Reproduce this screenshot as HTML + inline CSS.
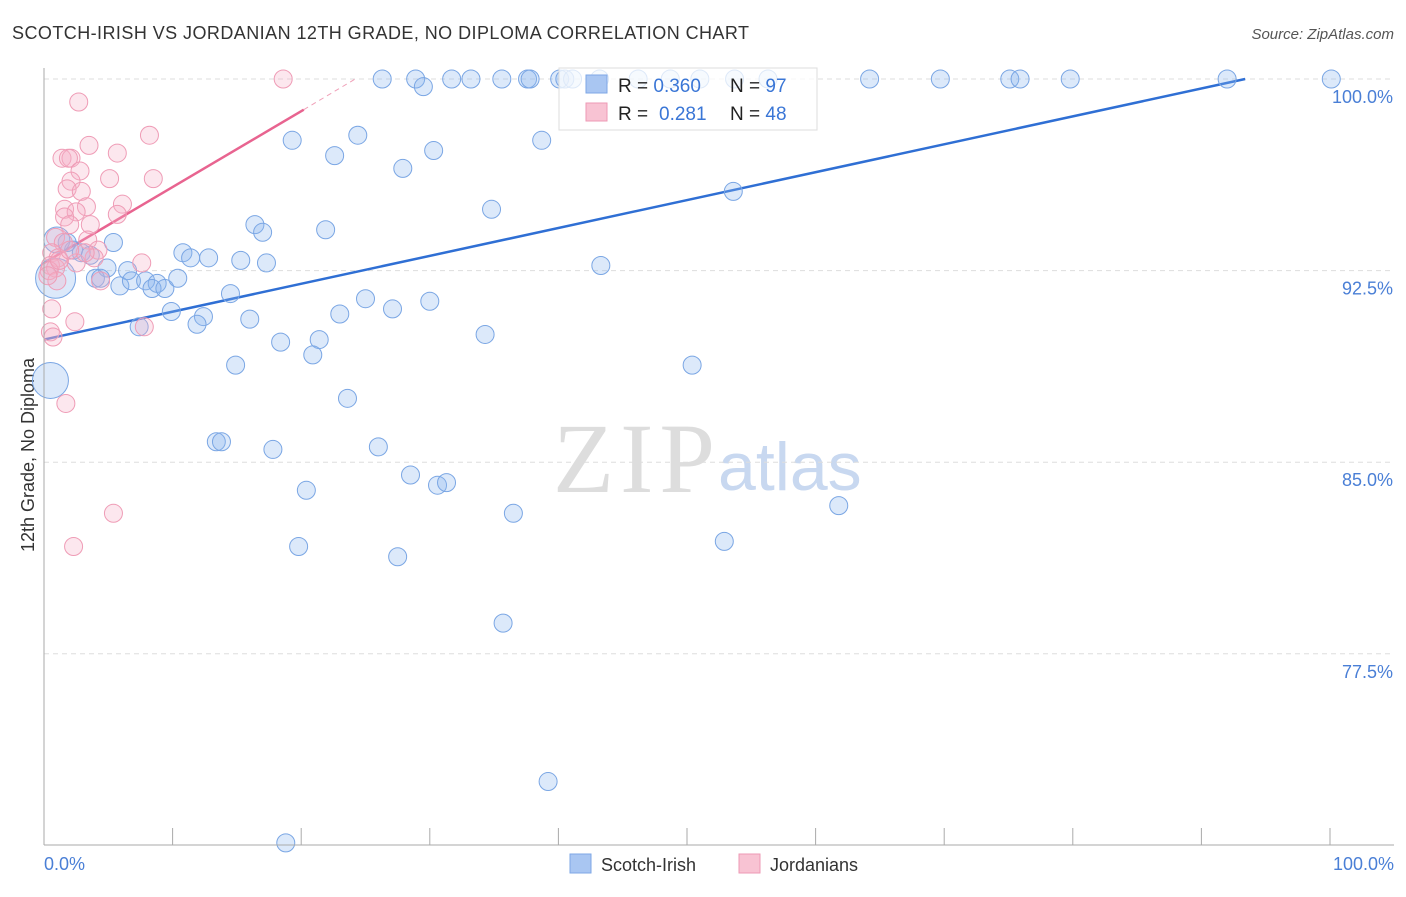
<!DOCTYPE html>
<html><head><meta charset="utf-8"><style>
body{margin:0;background:#fff;font-family:"Liberation Sans",sans-serif}
</style></head><body>
<svg id="c" width="1406" height="892" xmlns="http://www.w3.org/2000/svg" font-family="Liberation Sans, sans-serif">
<text x="12" y="39" font-size="18" fill="#333" textLength="737">SCOTCH-IRISH VS JORDANIAN 12TH GRADE, NO DIPLOMA CORRELATION CHART</text>
<text x="1394" y="39" font-size="15" fill="#555" text-anchor="end" font-style="italic">Source: ZipAtlas.com</text>
<text x="34" y="455" font-size="18" fill="#333" text-anchor="middle" transform="rotate(-90 34 455)">12th Grade, No Diploma</text>
<text x="553" y="492" font-size="100" fill="#ddd" style="font-family:'Liberation Serif',serif" textLength="162">ZIP</text>
<text x="718" y="490" font-size="68" fill="#c8d8f0">atlas</text>
<g id="grid"></g><g id="trend"></g>
<g id="pts"></g>
<g>
<rect x="559" y="68" width="258" height="62" fill="#fff" fill-opacity="0.75" stroke="#ddd"/>
<rect x="586" y="75" width="21" height="18" fill="#a9c6f2" stroke="#7ea7e6"/>
<rect x="586" y="103" width="21" height="18" fill="#f8c3d3" stroke="#ee9ab4"/>
<text x="618" y="92" font-size="19" fill="#222">R = <tspan fill="#3a76d6">0.360</tspan><tspan x="730">N = </tspan><tspan fill="#3a76d6">97</tspan></text>
<text x="618" y="120" font-size="19" fill="#222">R = <tspan x="659" fill="#3a76d6">0.281</tspan><tspan x="730">N = </tspan><tspan fill="#3a76d6">48</tspan></text>
</g>
<line x1="44" y1="68" x2="44" y2="845" stroke="#aaa"/>
<line x1="44" y1="845" x2="1394" y2="845" stroke="#aaa"/>
<text x="44" y="870" font-size="18" fill="#4a7fd6">0.0%</text>
<text x="1394" y="870" font-size="18" fill="#4a7fd6" text-anchor="end">100.0%</text>
<g>
<rect x="570" y="854" width="21" height="19" fill="#a9c6f2" stroke="#7ea7e6"/>
<text x="601" y="871" font-size="18" fill="#333">Scotch-Irish</text>
<rect x="739" y="854" width="21" height="19" fill="#f8c3d3" stroke="#ee9ab4"/>
<text x="770" y="871" font-size="18" fill="#333">Jordanians</text>
</g>
</svg>
<script>
const yTicks=[100,92.5,85,77.5];
const yTickLabels=["100.0%","92.5%","85.0%","77.5%"];
const xTicks=[0,10,20,30,40,50,60,70,80,90,100];
const blueX=[26.3,28.9,29.5,31.7,33.2,35.6,37.6,37.8,40.1,40.5,41.1,43.2,46.2,48.7,51.0,53.7,56.3,64.2,69.7,75.1,75.9,79.8,92.0,100.1,19.3,24.4,22.6,38.7,30.3,27.9,34.8,53.6,16.4,17.0,21.9,5.4,1.8,2.3,2.9,3.6,10.8,11.4,12.8,15.3,17.3,43.3,4.9,6.5,4.0,4.4,5.9,6.8,7.9,8.8,8.4,9.4,10.4,14.5,25.0,30.0,27.1,23.0,9.9,12.4,11.9,16.0,7.4,34.3,21.4,18.4,20.9,14.9,50.4,23.6,13.4,13.8,17.8,26.0,28.5,30.6,31.3,20.4,36.5,61.8,19.8,52.9,27.5,35.7,39.2,18.8,0.9,0.5,1.0];
const blueY=[100,100,99.7,100,100,100,100,100,100,100,100,100,100,100,100,100,100,100,100,100,100,100,100,100,97.6,97.8,97.0,97.6,97.2,96.5,94.9,95.6,94.3,94.0,94.1,93.6,93.6,93.3,93.2,93.1,93.2,93.0,93.0,92.9,92.8,92.7,92.6,92.5,92.2,92.2,91.9,92.1,92.1,92.0,91.8,91.8,92.2,91.6,91.4,91.3,91.0,90.8,90.9,90.7,90.4,90.6,90.3,90.0,89.8,89.7,89.2,88.8,88.8,87.5,85.8,85.8,85.5,85.6,84.5,84.1,84.2,83.9,83.0,83.3,81.7,81.9,81.3,78.7,72.5,70.1,92.2,88.2,93.7];
const blueR=[9,9,9,9,9,9,9,9,9,9,9,9,9,9,9,9,9,9,9,9,9,9,9,9,9,9,9,9,9,9,9,9,9,9,9,9,9,9,9,9,9,9,9,9,9,9,9,9,9,9,9,9,9,9,9,9,9,9,9,9,9,9,9,9,9,9,9,9,9,9,9,9,9,9,9,9,9,9,9,9,9,9,9,9,9,9,9,9,9,9,20,18,13];
const pinkX=[18.6,2.7,8.2,3.5,5.7,1.4,2.1,1.9,8.5,5.1,2.8,2.1,1.8,2.9,3.3,1.6,2.5,1.6,6.1,5.7,3.6,2.0,0.9,1.5,3.4,4.2,0.6,1.1,3.9,2.5,7.6,0.5,0.9,0.4,4.4,1.0,0.6,2.4,0.5,0.7,7.8,1.7,5.4,2.3,0.3,1.2,3.2,2.0];
const pinkY=[100,99.1,97.8,97.4,97.1,96.9,96.9,96.9,96.1,96.1,96.4,96.0,95.7,95.6,95.0,94.9,94.8,94.6,95.1,94.7,94.3,94.3,93.8,93.6,93.7,93.3,93.2,93.0,93.0,92.8,92.8,92.7,92.6,92.5,92.1,92.1,91.0,90.5,90.1,89.9,90.3,87.3,83.0,81.7,92.3,92.9,93.2,93.3];
const blueTrendX=[0,93.4],blueTrendY=[89.8,100];
const pinkTrendX=[0,20.2,24.2],pinkTrendY=[92.8,98.8,100];
const X=v=>44+v*12.86, Y=v=>79+(100-v)/0.039144;
const NS="http://www.w3.org/2000/svg";
function mk(tag,attrs,parent){const e=document.createElementNS(NS,tag);for(const k in attrs)e.setAttribute(k,attrs[k]);parent.appendChild(e);return e;}
const grid=document.getElementById('grid'),trend=document.getElementById('trend'),pts=document.getElementById('pts');
yTicks.forEach((t,i)=>{
 const l=mk('line',{x1:44,x2:1394,y1:Y(t),y2:Y(t),stroke:'#ddd','stroke-dasharray':'5,4'},grid);
 
 
 const tx=mk('text',{x:1393,y:Y(t)+24,'font-size':18,fill:'#4a7fd6','text-anchor':'end'},grid);
 tx.textContent=yTickLabels[i];
 
 
});
xTicks.forEach(t=>{
 const l=mk('line',{x1:X(t),x2:X(t),y1:828,y2:845,stroke:'#aaa'},grid);
 
 
});
blueX.forEach((v,i)=>{
 const c=mk('circle',{cx:X(v),cy:Y(blueY[i]),r:blueR[i],fill:'rgba(140,182,238,0.3)',stroke:'#7aa6e4','stroke-width':1},pts);
 
 
});
pinkX.forEach((v,i)=>{
 const c=mk('circle',{cx:X(v),cy:Y(pinkY[i]),r:9,fill:'rgba(245,175,198,0.3)',stroke:'#ef9cb6','stroke-width':1},pts);
 
 
});
const bl=mk('line',{x1:X(blueTrendX[0]),y1:Y(blueTrendY[0]),x2:X(blueTrendX[1]),y2:Y(blueTrendY[1]),stroke:'#2f6fd4','stroke-width':2.5},trend);


const pl=mk('line',{x1:X(pinkTrendX[0]),y1:Y(pinkTrendY[0]),x2:X(pinkTrendX[1]),y2:Y(pinkTrendY[1]),stroke:'#e86490','stroke-width':2.5},trend);


const pd=mk('line',{x1:X(pinkTrendX[1]),y1:Y(pinkTrendY[1]),x2:X(pinkTrendX[2]),y2:Y(pinkTrendY[2]),stroke:'#f0a0b8','stroke-width':1,'stroke-dasharray':'5,4'},trend);


</script>
</body></html>
